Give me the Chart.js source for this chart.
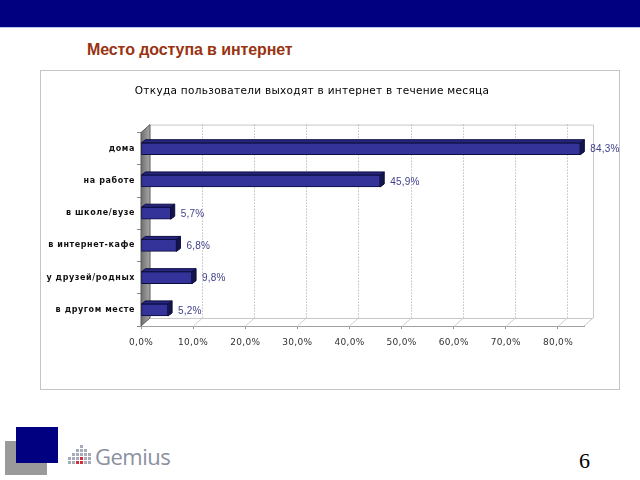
<!DOCTYPE html>
<html>
<head>
<meta charset="utf-8">
<script src="https://cdn.jsdelivr.net/npm/chart.js@4/dist/chart.umd.min.js"></script>
<style>
  html, body { margin: 0; padding: 0; background: #fff; }
  #page { position: relative; width: 640px; height: 480px; overflow: hidden; background: #fff; }
  #band { position: absolute; left: 0; top: 0; width: 640px; height: 27px; background: #000080; }
  #bandline { position: absolute; left: 0; top: 27px; width: 640px; height: 1px; background: #b8c4ee; }
  #slideTitle { position: absolute; left: 87px; top: 41px; font: bold 16px "Liberation Sans", Arial, sans-serif; color: #993311; white-space: nowrap; letter-spacing: -0.1px; }
  #frame { position: absolute; left: 40px; top: 70px; width: 578px; height: 318px; border: 1px solid #c4c4c4; }
  #gray { position: absolute; left: 5px; top: 441px; width: 42px; height: 34px; background: #9a9a9a; }
  #blue { position: absolute; left: 16px; top: 427px; width: 42px; height: 36px; background: #000080; }
  #logoText { position: absolute; left: 95px; top: 441px; font: 22px "Open Sans", "Liberation Sans", sans-serif; color: #8a90a0; letter-spacing: -0.5px; }
  #icon { position: absolute; left: 68px; top: 447px; }
  #icon div { position: absolute; width: 3px; height: 3px; background: #a8acb8; }
  #pagenum { position: absolute; left: 579px; top: 448px; font: 22px "Liberation Serif", serif; color: #000; }
  #c { position: absolute; left: 0; top: 0; }
</style>
</head>
<body>
<div id="page">
  <div id="band"></div>
  <div id="bandline"></div>
  <div id="slideTitle">Место доступа в интернет</div>
  <div id="frame"></div>
  <div id="gray"></div>
  <div id="blue"></div>
  <div id="icon"></div>
  <div id="logoText">Gemius</div>
  <div id="pagenum">6</div>
  <canvas id="c" width="640" height="480"></canvas>
</div>
<script>
const chartTitle = 'Откуда пользователи выходят в интернет в течение месяца';
const categories = ['дома', 'на работе', 'в школе/вузе', 'в интернет-кафе', 'у друзей/родных', 'в другом месте'];
const values = [84.3, 45.9, 5.7, 6.8, 9.8, 5.2];
const tickValues = [0, 10, 20, 30, 40, 50, 60, 70, 80];
const axisMax = 85;

// logo icon (decorative)
(function () {
  const icon = document.getElementById('icon');
  const cols = [2, 3, 4, 5, 4, 3];
  cols.forEach((n, c) => {
    for (let r = 0; r < n; r++) {
      const d = document.createElement('div');
      d.style.left = (c * 4) + 'px';
      d.style.top = (18 - (r + 1) * 4) + 'px';
      if ((c === 3 && r < 2) || (c === 2 && r === 0)) d.style.background = '#d0303a';
      icon.appendChild(d);
    }
  });
})();

const fmt = v => v.toFixed(1).replace('.', ',') + '%';

const DX = 9, DY = 8;     // wall depth
const BDX = 4, BDY = 3;   // bar depth

const wallPlugin = {
  id: 'wall3d',
  afterLayout(chart) {
    const ys = chart.scales.y;
    if (ys && !ys._spaced) {
      const orig = ys.drawLabels;
      ys.drawLabels = function () {
        const prev = chart.ctx.letterSpacing;
        chart.ctx.letterSpacing = '0.6px';
        orig.apply(this, arguments);
        chart.ctx.letterSpacing = prev;
      };
      ys._spaced = true;
    }
  },
  beforeDraw(chart) { chart.ctx.letterSpacing = '0.3px'; },
  beforeDatasetsDraw(chart) {
    const ctx = chart.ctx;
    ctx.letterSpacing = '0px';
    const xs = chart.scales.x;
    const a = chart.chartArea;
    const L = a.left, R = a.right, T = a.top, B = a.bottom;
    ctx.save();
    ctx.fillStyle = '#ffffff';
    ctx.fillRect(L + DX, T - DY, R - L, B - T);
    ctx.strokeStyle = '#c8c8c8';
    ctx.lineWidth = 1;
    ctx.beginPath();
    ctx.moveTo(L + DX, T - DY + 0.5); ctx.lineTo(R + DX, T - DY + 0.5);
    ctx.moveTo(R + DX + 0.5, T - DY); ctx.lineTo(R + DX + 0.5, B - DY);
    ctx.moveTo(R, B); ctx.lineTo(R + DX, B - DY);
    ctx.moveTo(L + DX, B - DY + 0.5); ctx.lineTo(R + DX, B - DY + 0.5);
    ctx.stroke();
    tickValues.forEach(v => {
      if (v === 0) return;
      const px = Math.round(xs.getPixelForValue(v)) + 0.5;
      ctx.strokeStyle = '#a0a0a0';
      ctx.setLineDash([1, 2]);
      ctx.beginPath();
      ctx.moveTo(px + DX, T - DY); ctx.lineTo(px + DX, B - DY);
      ctx.stroke();
      ctx.setLineDash([]);
      ctx.strokeStyle = '#d0d0d0';
      ctx.beginPath();
      ctx.moveTo(px, B); ctx.lineTo(px + DX, B - DY);
      ctx.stroke();
    });
    const g = ctx.createLinearGradient(L, 0, L + DX, 0);
    g.addColorStop(0, '#6e6e6e');
    g.addColorStop(1, '#a8a8a8');
    ctx.fillStyle = g;
    ctx.beginPath();
    ctx.moveTo(L, T); ctx.lineTo(L + DX, T - DY); ctx.lineTo(L + DX, B - DY); ctx.lineTo(L, B);
    ctx.closePath();
    ctx.fill();
    ctx.strokeStyle = '#5a5a5a';
    ctx.stroke();
    ctx.restore();
  },
  afterDatasetsDraw(chart) {
    const ctx = chart.ctx;
    const meta = chart.getDatasetMeta(0);
    ctx.save();
    meta.data.forEach((el, i) => {
      const p = el.getProps(['x', 'y', 'base', 'height'], true);
      const top = p.y - p.height / 2, bot = p.y + p.height / 2;
      ctx.fillStyle = '#262680';
      ctx.strokeStyle = '#0d0d40';
      ctx.lineWidth = 1;
      ctx.beginPath();
      ctx.moveTo(p.base, top); ctx.lineTo(p.base + BDX, top - BDY);
      ctx.lineTo(p.x + BDX, top - BDY); ctx.lineTo(p.x, top);
      ctx.closePath(); ctx.fill(); ctx.stroke();
      ctx.fillStyle = '#14144d';
      ctx.beginPath();
      ctx.moveTo(p.x, top); ctx.lineTo(p.x + BDX, top - BDY);
      ctx.lineTo(p.x + BDX, bot - BDY); ctx.lineTo(p.x, bot);
      ctx.closePath(); ctx.fill(); ctx.stroke();
      ctx.font = '10px "Liberation Sans", Arial, sans-serif';
      ctx.letterSpacing = '0.2px';
      ctx.fillStyle = '#40408c';
      ctx.textAlign = 'left';
      ctx.textBaseline = 'middle';
      ctx.fillText(fmt(values[i]), p.x + 10, p.y + 1);
    });
    ctx.letterSpacing = '0px';
    ctx.restore();
  }
};

new Chart(document.getElementById('c'), {
  type: 'bar',
  data: {
    labels: categories,
    datasets: [{
      data: values,
      backgroundColor: '#333399',
      borderColor: '#0d0d40',
      borderWidth: 1,
      borderSkipped: false,
      barThickness: 12
    }]
  },
  options: {
    indexAxis: 'y',
    responsive: false,
    animation: false,
    devicePixelRatio: 1,
    layout: { padding: { left: 40, right: 56, top: 70, bottom: 114 } },
    plugins: {
      legend: { display: false },
      tooltip: { enabled: false },
      title: {
        display: true,
        text: chartTitle,
        color: '#000',
        font: { family: '"DejaVu Sans", sans-serif', size: 10.5, weight: 'normal' },
        padding: { top: 15, bottom: 35 }
      }
    },
    scales: {
      x: {
        min: 0,
        max: axisMax,
        afterBuildTicks: s => { s.ticks = tickValues.map(v => ({ value: v })); },
        afterFit: s => { s.height = 40; },
        ticks: {
          stepSize: 10,
          callback: v => fmt(v),
          color: '#333',
          font: { family: '"DejaVu Sans", sans-serif', size: 9 },
          padding: 8,
          maxRotation: 0,
          autoSkip: false
        },
        grid: { drawOnChartArea: false, drawTicks: true, tickLength: 3, color: '#999' },
        border: { display: true, color: '#a0a0a0' }
      },
      y: {
        afterFit: s => { s.width = 101; },
        ticks: {
          color: '#111',
          font: { family: '"DejaVu Sans", sans-serif', size: 8, weight: 'bold' },
          padding: 2,
          autoSkip: false
        },
        grid: { drawOnChartArea: false, drawTicks: true, tickLength: 4, color: '#888', offset: true },
        border: { display: false }
      }
    }
  },
  plugins: [wallPlugin]
});
</script>
</body>
</html>
